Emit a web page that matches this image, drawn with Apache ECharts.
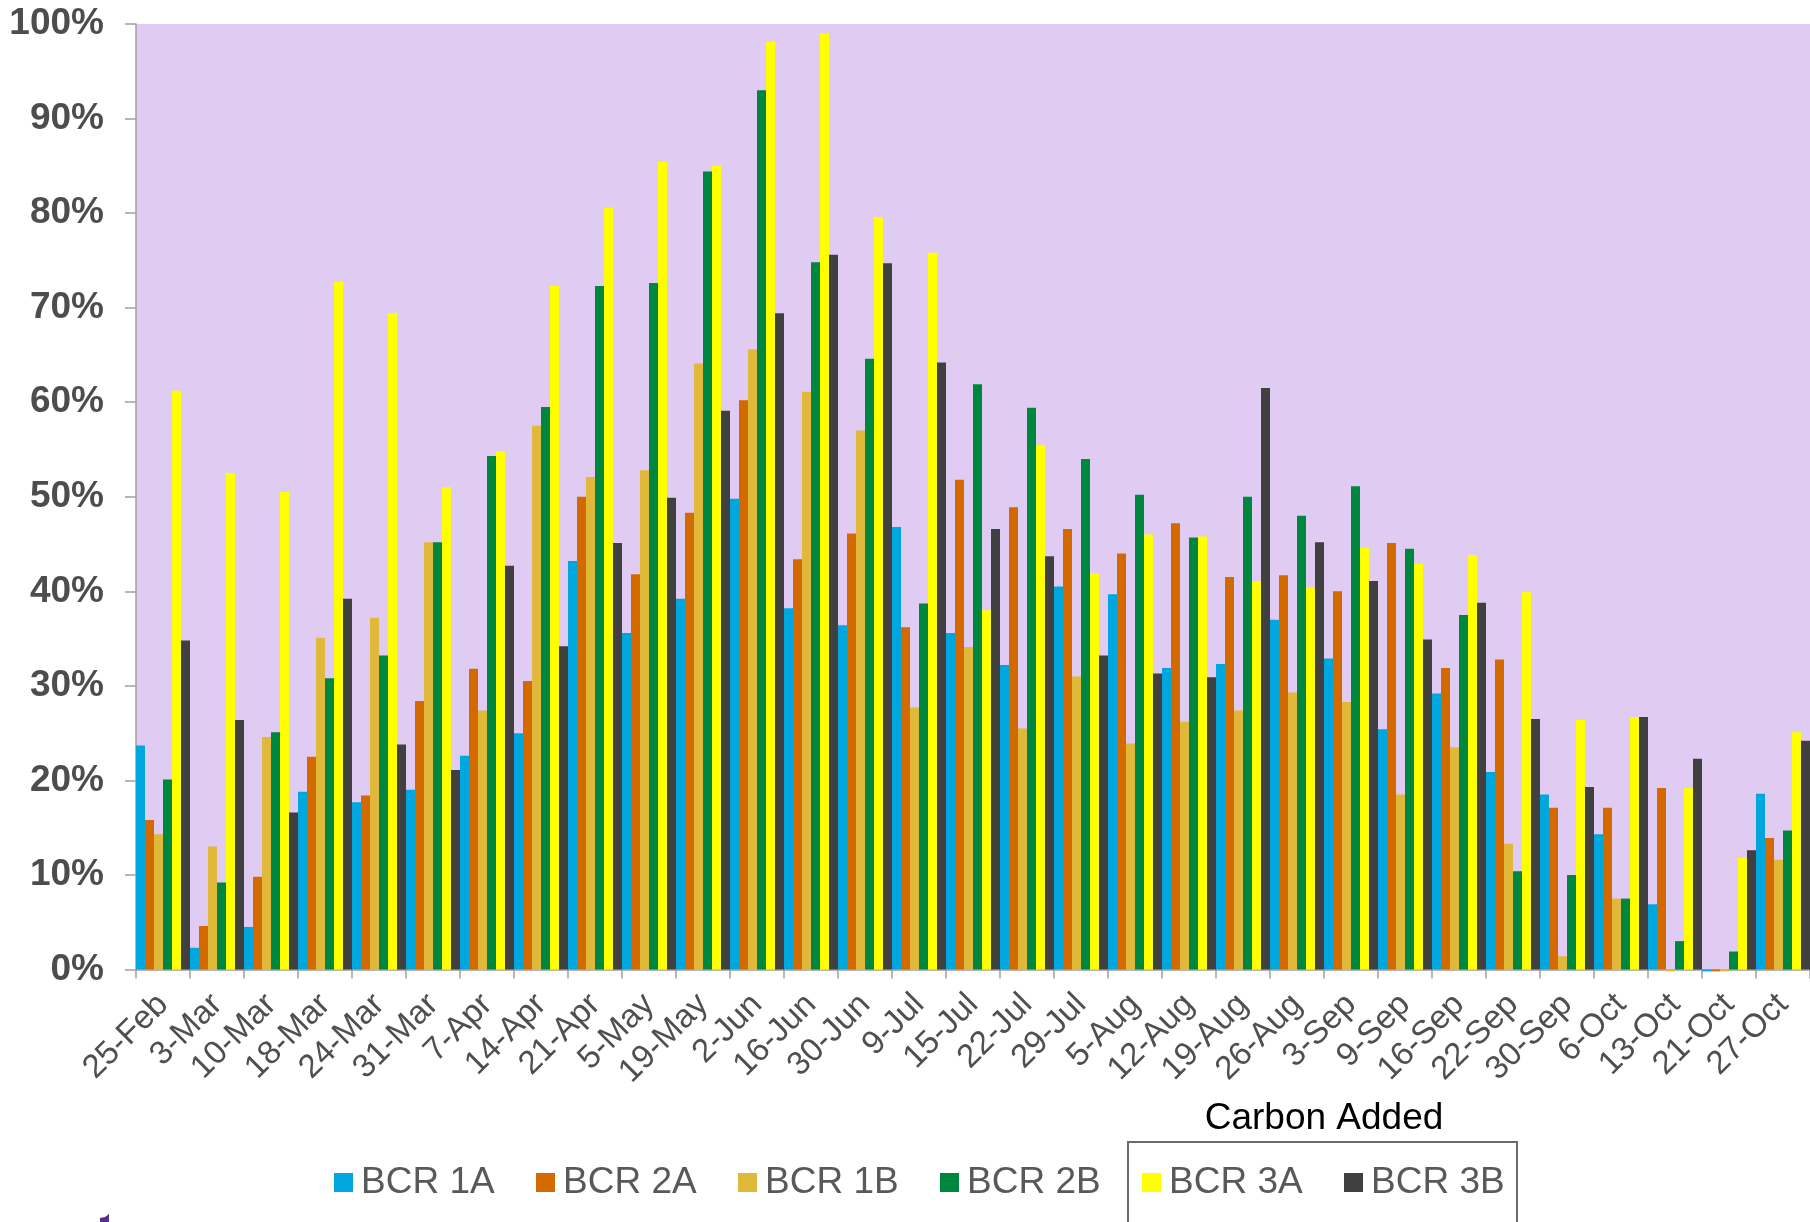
<!DOCTYPE html>
<html>
<head>
<meta charset="utf-8">
<title>BCR weekly results</title>
<script src="https://cdn.jsdelivr.net/npm/echarts@6/dist/echarts.min.js"></script>
<style>
  html, body { margin: 0; padding: 0; background: #ffffff; }
  #chart { width: 1810px; height: 1222px; }
</style>
</head>
<body>
<div id="chart"></div>
<script>
// Sampling dates (category axis)
const categories = ['25-Feb','3-Mar','10-Mar','18-Mar','24-Mar','31-Mar','7-Apr','14-Apr','21-Apr','5-May',
  '19-May','2-Jun','16-Jun','30-Jun','9-Jul','15-Jul','22-Jul','29-Jul','5-Aug','12-Aug',
  '19-Aug','26-Aug','3-Sep','9-Sep','16-Sep','22-Sep','30-Sep','6-Oct','13-Oct','21-Oct','27-Oct'];

// Percent values per reactor
const bcr1A = [23.7, 2.3, 4.5, 18.8, 17.7, 19.0, 22.6, 25.0, 43.2, 35.6, 39.2, 49.8, 38.2, 36.4, 46.8, 35.6,
  32.2, 40.5, 39.7, 31.9, 32.3, 37.0, 32.9, 25.4, 29.2, 20.9, 18.5, 14.3, 6.9, -0.2, 18.6];
const bcr2A = [15.8, 4.6, 9.8, 22.5, 18.4, 28.4, 31.8, 30.5, 50.0, 41.8, 48.3, 60.2, 43.4, 46.1, 36.2, 51.8,
  48.9, 46.6, 44.0, 47.2, 41.5, 41.7, 40.0, 45.1, 31.9, 32.8, 17.1, 17.1, 19.2, -0.2, 13.9];
const bcr1B = [14.3, 13.0, 24.6, 35.1, 37.2, 45.2, 27.4, 57.5, 52.1, 52.8, 64.1, 65.6, 61.1, 57.0, 27.7, 34.1,
  25.5, 31.0, 23.9, 26.2, 27.4, 29.3, 28.3, 18.5, 23.5, 13.3, 1.4, 7.5, -0.2, -0.2, 11.6];
const bcr2B = [20.1, 9.2, 25.1, 30.8, 33.2, 45.2, 54.3, 59.5, 72.3, 72.6, 84.4, 93.0, 74.8, 64.6, 38.7, 61.9,
  59.4, 54.0, 50.2, 45.7, 50.0, 48.0, 51.1, 44.5, 37.5, 10.4, 10.0, 7.5, 3.0, 1.9, 14.7];
const bcr3A = [61.2, 52.5, 50.5, 72.7, 69.4, 51.0, 54.8, 72.3, 80.6, 85.4, 85.0, 98.1, 99.0, 79.6, 75.8, 38.0,
  55.5, 41.9, 46.0, 45.8, 41.1, 40.4, 44.6, 42.9, 43.8, 39.9, 26.4, 26.7, 19.2, 11.8, 25.1];
const bcr3B = [34.8, 26.4, 16.6, 39.2, 23.8, 21.1, 42.7, 34.2, 45.1, 49.9, 59.1, 69.4, 75.6, 74.7, 64.2, 46.6,
  43.7, 33.2, 31.3, 30.9, 61.5, 45.2, 41.1, 34.9, 38.8, 26.5, 19.3, 26.7, 22.3, 12.6, 24.2];

const seriesNames = ['BCR 1A', 'BCR 2A', 'BCR 1B', 'BCR 2B', 'BCR 3A', 'BCR 3B'];
const seriesColors = ['#00A7DE', '#D36A00', '#E0B93B', '#00873F', '#FFFF00', '#404040'];
const seriesData = [bcr1A, bcr2A, bcr1B, bcr2B, bcr3A, bcr3B];

const yTicks = { min: 0, max: 100, step: 10 };

const FONT = "'Liberation Sans', Arial, sans-serif";
const chart = echarts.init(document.getElementById('chart'), null, { renderer: 'canvas' });

const legends = seriesNames.map((name, i) => ({
  data: [name],
  left: 334 + 202 * i,
  top: 1164,
  padding: 0,
  itemWidth: 19,
  itemHeight: 19,
  icon: 'rect',
  textStyle: { fontFamily: FONT, fontSize: 37, color: '#595959', padding: [0, 0, 0, 3] }
}));

chart.setOption({
  animation: false,
  backgroundColor: '#ffffff',
  grid: {
    left: 136, right: 0, top: 24, bottom: 252.5,
    show: true, backgroundColor: '#E0CBF3', borderWidth: 0
  },
  legend: legends,
  xAxis: {
    type: 'category',
    data: categories,
    boundaryGap: true,
    axisLine: { show: true, lineStyle: { color: '#A0A0A0', width: 1.5 } },
    axisTick: { show: true, interval: 0, length: 9, lineStyle: { color: '#A0A0A0', width: 1.5 } },
    axisLabel: {
      interval: 0, rotate: 45, margin: 30,
      fontFamily: FONT, fontSize: 33, color: '#4F4F4F'
    }
  },
  yAxis: {
    type: 'value',
    min: yTicks.min, max: yTicks.max, interval: yTicks.step,
    axisLine: { show: true, lineStyle: { color: '#A0A0A0', width: 1.5 } },
    axisTick: { show: true, length: 11, lineStyle: { color: '#A0A0A0', width: 1.5 } },
    splitLine: { show: false },
    axisLabel: {
      formatter: '{value}%', margin: 32,
      fontFamily: FONT, fontSize: 37, fontWeight: 'bold', color: '#4D4D4D'
    }
  },
  series: seriesNames.map((name, i) => ({
    name: name,
    type: 'bar',
    data: seriesData[i],
    barGap: '0%',
    barCategoryGap: '0%',
    clip: false,
    itemStyle: { color: seriesColors[i] }
  })),
  graphic: [
    {
      type: 'text',
      x: 1324, y: 1119,
      style: {
        text: 'Carbon Added', font: '37px ' + FONT, fill: '#000000',
        align: 'center', verticalAlign: 'middle'
      }
    },
    {
      type: 'rect',
      shape: { x: 1128, y: 1142, width: 389, height: 100 },
      style: { fill: 'none', stroke: '#6B6B6B', lineWidth: 2 }
    },
    {
      type: 'polygon',
      shape: { points: [[100, 1222], [100, 1218], [105, 1217], [109, 1214], [109, 1222]] },
      style: { fill: '#5A2D91' }
    }
  ]
});
</script>
</body>
</html>
